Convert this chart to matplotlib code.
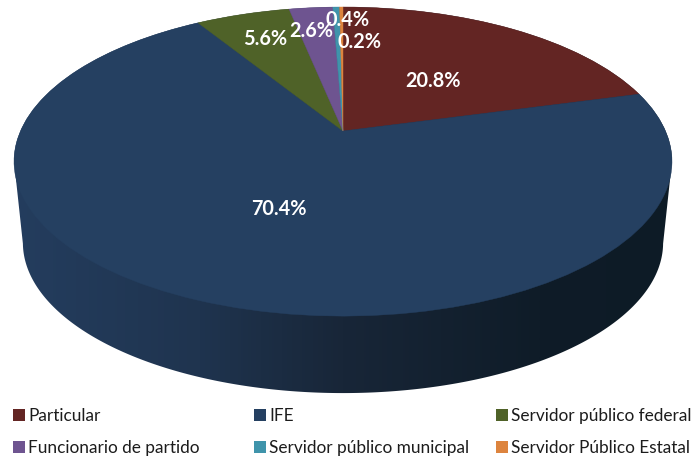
import numpy as np
import matplotlib
matplotlib.use("Agg")
import matplotlib.pyplot as plt
from matplotlib.transforms import Transform
from matplotlib.patches import Patch, Polygon
from matplotlib.colors import LinearSegmentedColormap

plt.rcParams['font.family'] = ['Lato', 'DejaVu Sans']

categories = ["Particular", "IFE", "Servidor público federal",
              "Funcionario de partido", "Servidor público municipal", "Servidor Público Estatal"]
values = [20.8, 70.4, 5.6, 2.6, 0.4, 0.2]
colors = ["#632523", "#254061", "#4F6228", "#6E5490", "#3F94AB", "#DD843E"]
label_pos = [(433, 81), (279, 209), (265, 39), (311, 31), (348, 20), (359, 42)]
legend_cols = [(0, 3), (1, 4), (2, 5)]
legend_x = [13, 254, 496]

W, H = 692, 459
CX, CY = 343, 131        # apex of the top face in pixels
K = 0.1976               # perspective strength
TOP_A, TOP_B = 322.5, 148.5
BOT_SCALE, BOT_CY = 0.973, 213


class Persp(Transform):
    input_dims = output_dims = 2
    has_inverse = False
    is_separable = False

    def __init__(self, cy, scale=1.0):
        super().__init__()
        self.cy, self.scale = cy, scale

    def transform_non_affine(self, p):
        p = np.asarray(p, float)
        w = 1 + K * p[:, 1]
        x = CX + self.scale * TOP_A * p[:, 0] / w
        y = self.cy - self.scale * TOP_B * p[:, 1] / w
        return np.column_stack([x, y])


fig = plt.figure(figsize=(W / 100, H / 100), dpi=100)
ax = fig.add_axes([0, 0, 1, 1])

# Extruded side: horizontal gradient clipped to the body silhouette
theta = np.linspace(0, 2 * np.pi, 1441)
circ = np.column_stack([np.cos(theta), np.sin(theta)])
top = Persp(CY).transform(circ)
bot = Persp(BOT_CY, BOT_SCALE).transform(circ)
upper = top[top[:, 1] < top[np.argmin(top[:, 0]), 1]]
upper = upper[np.argsort(upper[:, 0])]                       # left to right over the top
lower = bot[bot[:, 1] > bot[np.argmax(bot[:, 0]), 1]]
lower = lower[np.argsort(-lower[:, 0])]                      # right to left under the bottom
outline = Polygon(np.vstack([upper, lower]), closed=True, transform=ax.transData,
                  facecolor='none', edgecolor='none')
ax.add_patch(outline)
shade = LinearSegmentedColormap.from_list(
    "side", [(0, "#243D5E"), (0.28, "#1F344F"), (0.5, "#182638"), (0.8, "#0F1C28"), (1, "#0D1B26")])
im = ax.imshow(np.linspace(0, 1, 659)[None, :], extent=(14, 673, 400, 0), cmap=shade,
               aspect='auto', interpolation='bilinear', zorder=1)
im.set_clip_path(outline)

# Top face
wedges, _ = ax.pie(values, colors=colors, startangle=90, counterclock=False, radius=1.0)
persp = Persp(CY)
for w, c in zip(wedges, colors):
    w.set_transform(persp + ax.transData)
    w.set_edgecolor(c)
    w.set_linewidth(0.3)
    w.set_zorder(3)

ax.set_aspect('auto')
ax.set_xlim(0, W)
ax.set_ylim(H, 0)
ax.axis('off')

for v, (x, y) in zip(values, label_pos):
    ax.text(x, y, f"{v:.1f}%", color="white", fontsize=14.3, fontweight="bold",
            ha="center", va="center", zorder=5)

for cx, idx in zip(legend_x, legend_cols):
    handles = [Patch(facecolor=colors[i], edgecolor='none') for i in idx]
    leg = ax.legend(handles, [categories[i] for i in idx], loc="upper left",
                    bbox_to_anchor=(cx, 408), bbox_transform=ax.transData,
                    frameon=False, borderpad=0, borderaxespad=0, fontsize=12.4,
                    handlelength=0.72, handleheight=0.72, handletextpad=0.15,
                    labelspacing=0.95, labelcolor="#1c1c1c")
    ax.add_artist(leg)
ax.legend_ = None

fig.savefig("out.png", dpi=100)
